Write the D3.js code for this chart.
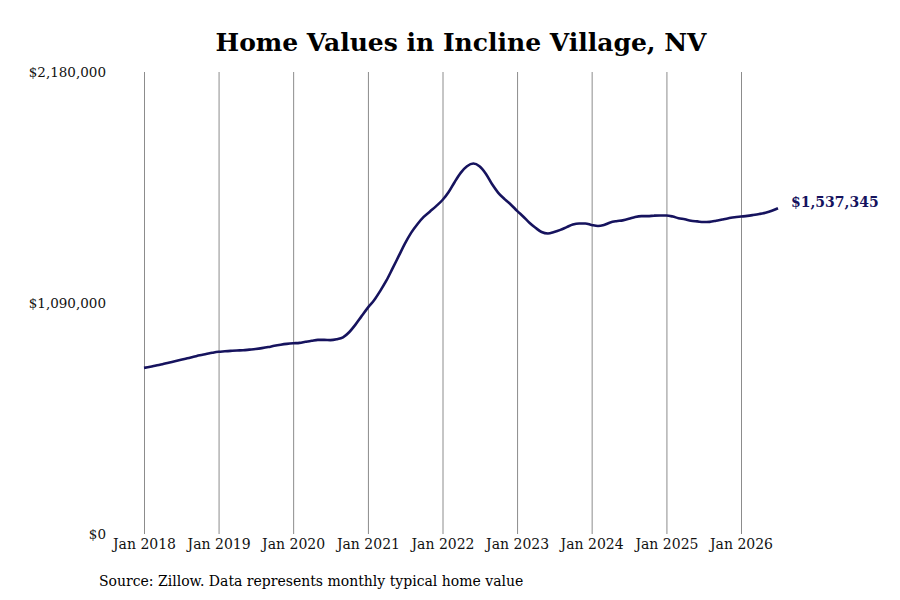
<!DOCTYPE html>
<html>
<head>
<meta charset="utf-8">
<script src="https://cdn.jsdelivr.net/npm/d3@7"></script>
<style>
  body { margin: 0; background: #fff; }
  svg { display: block; font-family: "DejaVu Serif", serif; }
</style>
</head>
<body>
<svg id="wykres" width="900" height="600"></svg>
<script>
// dane: miesięczne wartości (tys. $), od Jan 2018 do Jul 2026
let startDate = new Date(2018, 0, 1);
let values = [
  784, 789, 795, 801, 808, 815, 822, 829, 836, 843, 849, 855,
  860, 862, 864, 866, 867, 870, 873, 877, 882, 888, 893, 897,
  900, 902, 907, 912, 916, 916, 915, 919, 928, 952, 988, 1028,
  1068, 1104, 1145, 1195, 1252, 1312, 1370, 1422, 1463, 1496, 1522, 1547,
  1576, 1615, 1660, 1705, 1735, 1748, 1735, 1700, 1650, 1610, 1580, 1555,
  1525, 1497, 1470, 1445, 1425, 1418, 1425, 1435, 1448, 1460, 1465, 1465,
  1458, 1453, 1458, 1470, 1476, 1480, 1487, 1496, 1500, 1500, 1502, 1503,
  1503, 1498, 1490, 1485, 1478, 1475, 1472, 1473, 1478, 1484, 1490, 1495,
  1498, 1501, 1505, 1510, 1516, 1525, 1537.345
];
let yTicks = [0, 1090000, 2180000];
let tickYears = [2018, 2019, 2020, 2021, 2022, 2023, 2024, 2025, 2026];
let lastLabel = "$1,537,345";
let title = "Home Values in Incline Village, NV";
let source = "Source: Zillow. Data represents monthly typical home value";

let dane = values.map(function(v, i) {
  return { date: d3.timeMonth.offset(startDate, i), value: v * 1000 };
});

let svg = d3.select('#wykres');

let x = d3.scaleTime()
  .domain([new Date(2018, 0, 1), new Date(2026, 0, 1)])
  .range([144, 741]);

let y = d3.scaleLinear()
  .domain([0, 2180000])
  .range([534, 72]);

// tytuł
svg.append('text')
  .attr('x', 461).attr('y', 51)
  .attr('text-anchor', 'middle')
  .attr('font-size', 25).attr('font-weight', 'bold')
  .attr('fill', '#000')
  .text(title);

// pionowe linie siatki
let xAxis = d3.axisBottom(x)
  .tickValues(tickYears.map(function(r) { return new Date(r, 0, 1); }))
  .tickSize(-(534 - 72))
  .tickPadding(5)
  .tickFormat(d3.timeFormat('Jan %Y'));

let gx = svg.append('g').attr('transform', 'translate(0,534)').call(xAxis);
gx.select('.domain').remove();
gx.selectAll('line').attr('stroke', '#8c8c8c').attr('stroke-width', 1);
gx.selectAll('text')
  .attr('font-family', '"DejaVu Serif", serif')
  .attr('font-size', 14).attr('fill', '#111');

let yAxis = d3.axisLeft(y)
  .tickValues(yTicks)
  .tickSize(0)
  .tickPadding(0)
  .tickFormat(function(d) { return '$' + d3.format(',')(d); });

let gy = svg.append('g').attr('transform', 'translate(106,0)').call(yAxis);
gy.select('.domain').remove();
gy.selectAll('text')
  .attr('font-family', '"DejaVu Serif", serif')
  .attr('font-size', 13.5).attr('fill', '#111');

// linia
let line = d3.line()
  .x(function(d) { return x(d.date); })
  .y(function(d) { return y(d.value); })
  .curve(d3.curveMonotoneX);

svg.append('path')
  .datum(dane)
  .attr('d', line)
  .attr('fill', 'none')
  .attr('stroke', '#16135e')
  .attr('stroke-width', 2.6);

let ostatni = dane[dane.length - 1];
svg.append('text')
  .attr('x', x(ostatni.date) + 13)
  .attr('y', y(ostatni.value) - 1)
  .attr('font-size', 14).attr('font-weight', 'bold')
  .attr('fill', '#16135e')
  .text(lastLabel);

// źródło
svg.append('text')
  .attr('x', 99).attr('y', 586)
  .attr('font-size', 14).attr('fill', '#000')
  .text(source);
</script>
</body>
</html>
